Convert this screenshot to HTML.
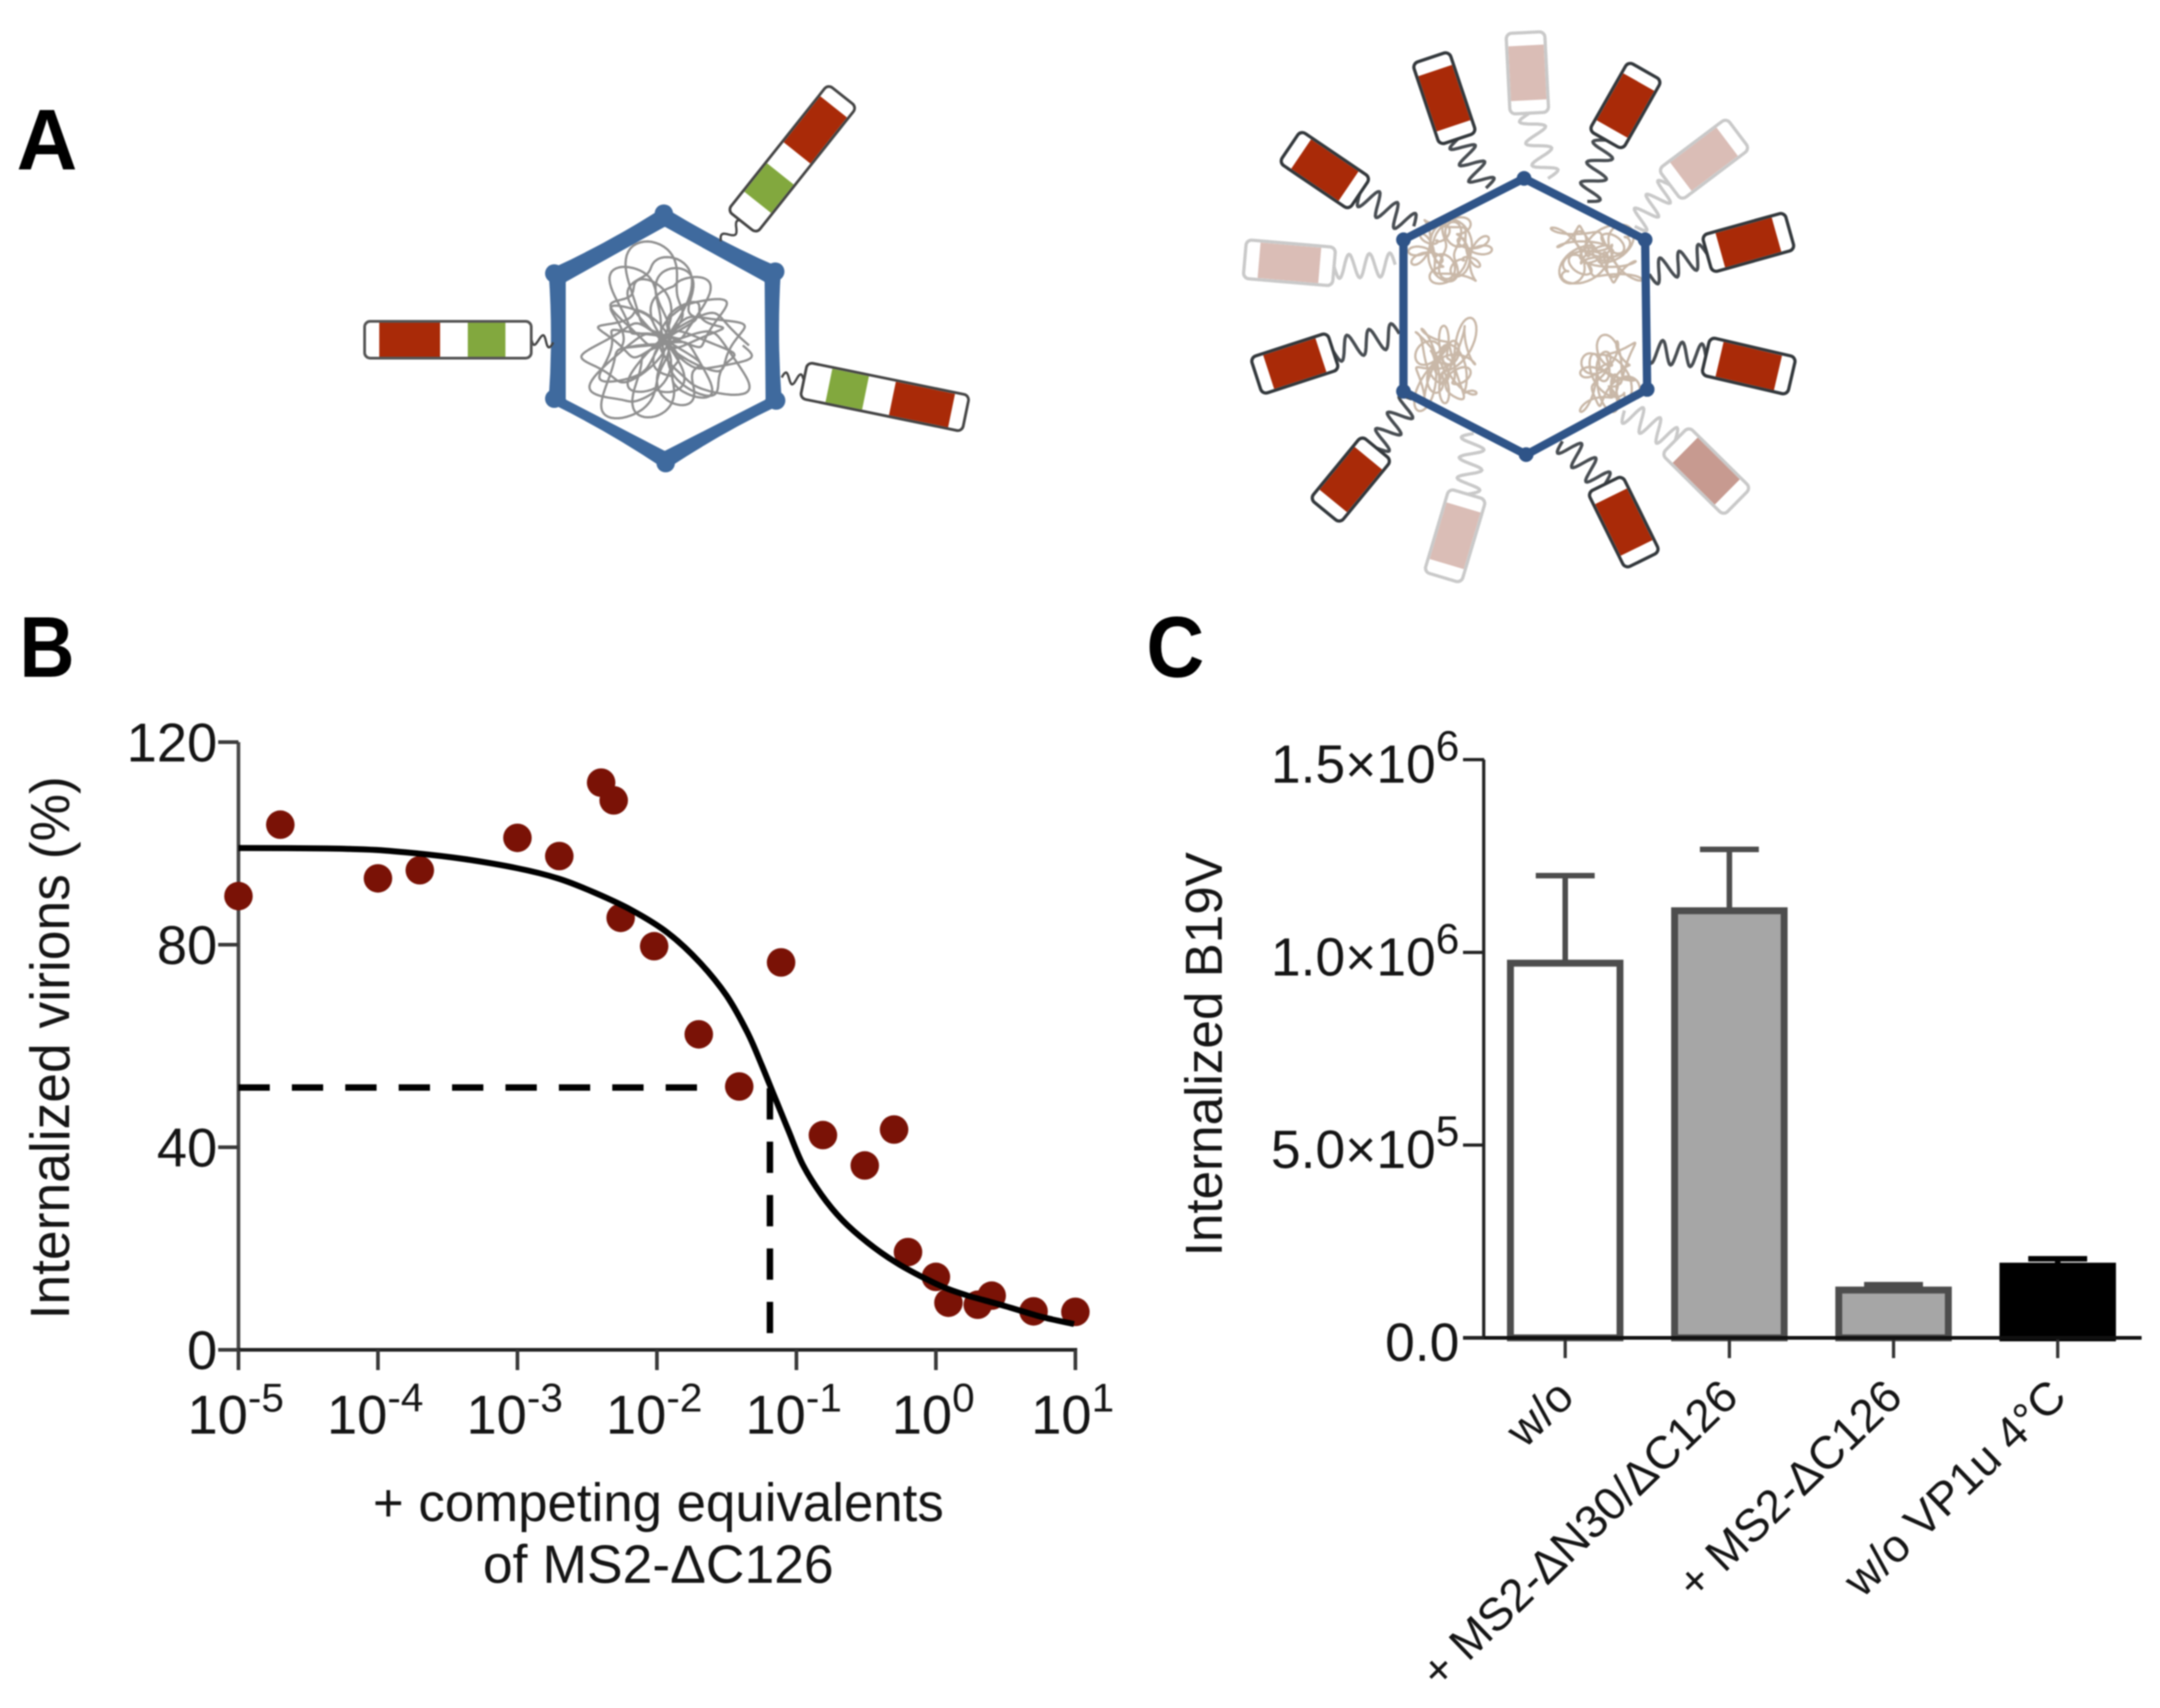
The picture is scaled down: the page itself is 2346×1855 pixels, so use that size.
<!DOCTYPE html>
<html lang="en">
<head>
<meta charset="utf-8">
<title>MS2 competition figure</title>
<style>
html,body{margin:0;padding:0;background:#fff;}
svg{display:block;filter:blur(0.9px);}
text{font-family:"Liberation Sans",sans-serif;fill:#151515;}
</style>
</head>
<body>
<svg id="fig" xmlns="http://www.w3.org/2000/svg" width="2346" height="1855" viewBox="0 0 2346 1855">
  <rect x="0" y="0" width="2346" height="1855" fill="#ffffff"/>
  <text x="18" y="184" font-size="94" font-weight="700" textLength="66" lengthAdjust="spacingAndGlyphs" style="fill:#000">A</text>
  <text x="21" y="735" font-size="94" font-weight="700" textLength="60" lengthAdjust="spacingAndGlyphs" style="fill:#000">B</text>
  <text x="1245" y="735" font-size="94" font-weight="700" textLength="63" lengthAdjust="spacingAndGlyphs" style="fill:#000">C</text>

  <g id="panelA"></g>
  <g id="panelB">
    <text x="75" y="1138" font-size="60" text-anchor="middle" textLength="590" lengthAdjust="spacingAndGlyphs" transform="rotate(-90 75 1138)">Internalized virions (%)</text>
    <text x="715" y="1652" font-size="58" text-anchor="middle" textLength="620" lengthAdjust="spacingAndGlyphs">+ competing equivalents</text>
    <text x="715" y="1719" font-size="58" text-anchor="middle" textLength="381" lengthAdjust="spacingAndGlyphs">of MS2-ΔC126</text>
  </g>
  <g id="panelC">
    <text x="1327" y="1145" font-size="57" text-anchor="middle" textLength="439" lengthAdjust="spacingAndGlyphs" transform="rotate(-90 1327 1145)">Internalized B19V</text>
  </g>
</svg>
<script>
// ---------- Panel B data ----------
var xTickExponents = [-5, -4, -3, -2, -1, 0, 1];
var yTicksB = [0, 40, 80, 120];
var pointLogX = [-5, -4.70, -4, -3.70, -3, -2.70, -2.40, -2.31, -2.26, -2.02, -1.70, -1.41, -1.11, -0.81, -0.51, -0.30, -0.20, 0, 0.09, 0.30, 0.40, 0.70, 1];
var pointY = [89.6, 103.7, 93.1, 94.7, 101.1, 97.5, 112, 108.5, 85.3, 79.7, 62.3, 52, 76.5, 42.4, 36.4, 43.5, 19.3, 14.4, 9.3, 8.9, 10.7, 7.6, 7.5];
var curveLogX = [-5, -4.37, -4.01, -3.71, -3.38, -3, -2.71, -2.44, -2.18, -1.92, -1.69, -1.5, -1.35, -1.25, -1.16, -1.06, -0.955, -0.82, -0.67, -0.49, -0.29, -0.12, 0.06, 0.23, 0.49, 0.76, 0.99];
var curveY = [99.1, 99, 98.7, 98, 96.9, 95.1, 93.1, 90.2, 86.8, 82.3, 76.4, 69.9, 62.6, 56.3, 50.2, 43.5, 36.6, 30.6, 25.6, 21.2, 17.3, 14.7, 12.3, 10.7, 8.7, 6.5, 5.1];
var guideLogX = [-1.19];
var guideY = [51.8];
var guideBottomY = [3.3];

// ---------- Panel C data ----------
var barLabels = ["w/o", "+ MS2-ΔN30/ΔC126", "+ MS2-ΔC126", "w/o VP1u 4°C"];
var barValues = [972000, 1108000, 124000, 186000];
var barErrorTops = [1199000, 1267000, 138000, 205000];
var barFills = ["#ffffff", "#a6a6a6", "#a6a6a6", "#000000"];
var barStrokes = ["#4d4d4d", "#4d4d4d", "#4d4d4d", "#000000"];
var yTicksC = [0, 500000, 1000000, 1500000];
var yTickMantissaC = ["0.0", "5.0×10", "1.0×10", "1.5×10"];
var yTickPowerC = ["", "5", "6", "6"];

var NS = "http://www.w3.org/2000/svg";
function mk(parent, tag, attrs) {
  var el = document.createElementNS(NS, tag);
  for (var k in attrs) { el.setAttribute(k, attrs[k]); }
  parent.appendChild(el);
  return el;
}

// ---------- Panel B axes ----------
var B = document.getElementById("panelB");
function bx(logx) { return 259 + (logx + 5) * 151.5; }
function by(v) { return 1466 - v * 5.5; }
var el;

el = mk(B, "line", {x1: bx(-5), x2: bx(-5), y1: by(120), y2: by(0) + 22, stroke: "#4a4a4a", "stroke-width": 4});


el = mk(B, "line", {x1: bx(-5) - 22, x2: bx(1) + 2, y1: by(0), y2: by(0), stroke: "#222", "stroke-width": 4});



yTicksB.forEach(function (v) {
  var t = mk(B, "line", {x1: bx(-5) - 22, x2: bx(-5), y1: by(v), y2: by(v), stroke: "#3a3a3a", "stroke-width": 4});
  
  
  var l = mk(B, "text", {x: 236, y: by(v) + 21, "font-size": 59, "text-anchor": "end"});
  
  
  l.textContent = String(v);
});

xTickExponents.forEach(function (e) {
  var t = mk(B, "line", {x1: bx(e), x2: bx(e), y1: by(0), y2: by(0) + 22, stroke: "#3a3a3a", "stroke-width": 4});
  
  
  var l = mk(B, "text", {x: bx(e) - 3, y: 1557, "font-size": 59, "text-anchor": "middle"});
  
  
  var base = mk(l, "tspan", {});
  base.textContent = "10";
  var sup = mk(l, "tspan", {dy: -24, "font-size": 44});
  sup.textContent = String(e);
});

// dashed guides
el = mk(B, "line", {x1: bx(-5), x2: bx(guideLogX[0]) - 77, y1: by(guideY[0]), y2: by(guideY[0]), stroke: "#000", "stroke-width": 7, "stroke-dasharray": "34 24"});


el = mk(B, "line", {x1: bx(guideLogX[0]), x2: bx(guideLogX[0]), y1: by(guideBottomY[0]), y2: by(guideY[0]), stroke: "#000", "stroke-width": 7, "stroke-dasharray": "34 24"});



// fit curve: smooth Catmull-Rom through the read points
function smooth(xs, ys) {
  var d = "M" + xs[0].toFixed(1) + " " + ys[0].toFixed(1);
  for (var i = 0; i < xs.length - 1; i++) {
    var i0 = Math.max(i - 1, 0), i3 = Math.min(i + 2, xs.length - 1);
    d += " C" + (xs[i] + (xs[i + 1] - xs[i0]) / 6).toFixed(1) + " " + (ys[i] + (ys[i + 1] - ys[i0]) / 6).toFixed(1) +
         " " + (xs[i + 1] - (xs[i3] - xs[i]) / 6).toFixed(1) + " " + (ys[i + 1] - (ys[i3] - ys[i]) / 6).toFixed(1) +
         " " + xs[i + 1].toFixed(1) + " " + ys[i + 1].toFixed(1);
  }
  return d;
}

pointLogX.forEach(function (lx, i) {
  var c = mk(B, "circle", {cx: bx(lx), cy: by(pointY[i]), r: 15.5, fill: "#7a1206"});
  
  
});
el = mk(B, "path", {d: smooth(curveLogX.map(bx), curveY.map(by)), fill: "none", stroke: "#000", "stroke-width": 6.5});



// ---------- Panel C ----------
var C = document.getElementById("panelC");
function cx(i) { return 1700 + i * 178.3; }
function cy(v) { return 1453 - v * (628 / 1500000); }

barValues.forEach(function (v, i) {
  var err = mk(C, "line", {x1: cx(i), x2: cx(i), y1: cy(v), y2: cy(barErrorTops[i]), stroke: barStrokes[i], "stroke-width": 6});
  
  
  var cap = mk(C, "line", {x1: cx(i) - 32, x2: cx(i) + 32, y1: cy(barErrorTops[i]), y2: cy(barErrorTops[i]), stroke: barStrokes[i], "stroke-width": 6});
  
  
  var r = mk(C, "rect", {x: cx(i) - 59.5, y: cy(v), width: 119, height: cy(0) - cy(v), fill: barFills[i], stroke: barStrokes[i], "stroke-width": 7.5});
  
  
  var t = mk(C, "line", {x1: cx(i), x2: cx(i), y1: cy(0), y2: cy(0) + 22, stroke: "#333", "stroke-width": 3.5});
  
  
  var l = mk(C, "text", {x: cx(i) + 12, y: 1520, "font-size": 50, "text-anchor": "end", transform: "rotate(-44 " + (cx(i) + 12) + " 1520)"});
  
  
  l.textContent = barLabels[i];
});

el = mk(C, "line", {x1: 1611.5, x2: 1611.5, y1: cy(1500000), y2: cy(0), stroke: "#222", "stroke-width": 3.5});


el = mk(C, "line", {x1: 1589, x2: 2326, y1: cy(0), y2: cy(0), stroke: "#111", "stroke-width": 4});



yTicksC.forEach(function (v, i) {
  var t = mk(C, "line", {x1: 1589, x2: 1612, y1: cy(v), y2: cy(v), stroke: "#222", "stroke-width": 3.5});
  
  
  var l = mk(C, "text", {x: 1585, y: cy(v) + 25, "font-size": 58, "text-anchor": "end"});
  
  
  var base = mk(l, "tspan", {});
  base.textContent = yTickMantissaC[i];
  if (yTickPowerC[i]) {
    var sup = mk(l, "tspan", {dy: -24, "font-size": 46});
    sup.textContent = yTickPowerC[i];
  }
});

// ---------- Panel A diagrams (illustration, not chart data) ----------
var A = document.getElementById("panelA");
function rod(parent, x1, y1, x2, y2, w, segs, stroke, sw, name) {
  var L = Math.hypot(x2 - x1, y2 - y1);
  var ang = Math.atan2(y2 - y1, x2 - x1) * 180 / Math.PI;
  var g = mk(parent, "g", {transform: "translate(" + x1.toFixed(1) + " " + y1.toFixed(1) + ") rotate(" + ang.toFixed(1) + ")"});
  
  
  var bg = mk(g, "rect", {x: 0, y: -w / 2, width: L, height: w, rx: 6, fill: "#fff", stroke: stroke, "stroke-width": sw});
  
  
  segs.forEach(function (s) {
    var r = mk(g, "rect", {x: s[0] * L, y: -w / 2 + sw / 2, width: (s[1] - s[0]) * L, height: w - sw, fill: s[2]});
    
    
  });
}
function spring(parent, x1, y1, x2, y2, periods, amp, stroke, width) {
  var dx = x2 - x1, dy = y2 - y1, L = Math.hypot(dx, dy), nx = -dy / L, ny = dx / L, d = "";
  var n = Math.round(periods * 16);
  for (var i = 0; i <= n; i++) {
    var f = i / n, a = Math.sin(f * periods * 2 * Math.PI) * amp;
    d += (i ? "L" : "M") + (x1 + dx * f + nx * a).toFixed(1) + " " + (y1 + dy * f + ny * a).toFixed(1) + " ";
  }
  var p = mk(parent, "path", {d: d, fill: "none", stroke: stroke, "stroke-width": width, "stroke-linejoin": "round"});
  
  
}
// curly closed strand: slow drift plus a fast looping term
function tangle(parent, cxx, cyy, rx, ry, f, loops, ph, stroke, width) {
  var d = "", n = loops * 24;
  for (var i = 0; i <= n; i++) {
    var t = i / n * 2 * Math.PI;
    var rr = 0.15 + 0.06 * Math.sin(f[4] * t + ph);
    var x = cxx + rx * (0.46 * Math.sin(f[0] * t + ph) + 0.3 * Math.sin(f[1] * t + 1.3 * ph) + rr * Math.cos(loops * t));
    var y = cyy + ry * (0.46 * Math.cos(f[2] * t + 0.4 * ph) + 0.3 * Math.sin(f[3] * t + 2.1) + rr * Math.sin(loops * t));
    d += (i ? "L" : "M") + x.toFixed(1) + " " + y.toFixed(1) + " ";
  }
  var p = mk(parent, "path", {d: d, fill: "none", stroke: stroke, "stroke-width": width, "stroke-linejoin": "round"});
  
  
}
// rosette strand: petals around the rim, dense crossing at the centre
function rosette(parent, cxx, cyy, rx, ry, stroke, width) {
  var d = "", n = 1500;
  for (var i = 0; i <= n; i++) {
    var th = i / n * 14 * Math.PI;
    var r = (0.74 + 0.16 * Math.sin(1.43 * th + 0.6) + 0.1 * Math.sin(3.3 * th)) * Math.cos(11 / 7 * th);
    var wob = 0.06 * Math.sin(9 * th);
    var x = cxx + rx * (r * Math.cos(th) + wob);
    var y = cyy + ry * (r * Math.sin(th) + 0.06 * Math.cos(7 * th));
    d += (i ? "L" : "M") + x.toFixed(1) + " " + y.toFixed(1) + " ";
  }
  var p = mk(parent, "path", {d: d, fill: "none", stroke: stroke, "stroke-width": width, "stroke-linejoin": "round"});
  
  
}
function ringPath(pts, centre, k) {
  var d = "M" + pts[0][0] + " " + pts[0][1];
  for (var i = 0; i < pts.length; i++) {
    var a = pts[i], b = pts[(i + 1) % pts.length];
    var mx = (a[0] + b[0]) / 2, my = (a[1] + b[1]) / 2;
    d += " Q" + (mx + (centre[0] - mx) * k).toFixed(1) + " " + (my + (centre[1] - my) * k).toFixed(1) + " " + b[0] + " " + b[1];
  }
  return d + " Z";
}

// left virion
var left = mk(A, "g", {});


var BLUE = "#3f6a9e", RED = "#a92a08", GREEN = "#82a83e";
var hexOuter = [[721, 232], [842, 295], [843, 435], [723, 503], [602, 433], [602, 297]];
var hexInner = [[722, 248], [829, 307], [830, 433], [722, 488], [616, 433], [616, 307]];
el = mk(left, "path", {d: ringPath(hexOuter, [722, 367], 0.04), fill: BLUE, stroke: BLUE, "stroke-width": 12, "stroke-linejoin": "round"});


hexOuter.forEach(function (p) {
  var c = mk(left, "circle", {cx: p[0], cy: p[1], r: 10, fill: BLUE});
  
  
});
el = mk(left, "polygon", {points: hexInner.map(function (p) { return p.join(","); }).join(" "), fill: "#fff", stroke: "#fff", "stroke-width": 3, "stroke-linejoin": "round"});


rosette(left, 722, 369, 102, 104, "#8f8f8f", 2.5);
var segL = [[0.155, 0.381, GREEN], [0.547, 0.912, RED]];
spring(left, 577, 368, 601, 372, 1.5, 6, "#444", 2.5);
spring(left, 808, 240, 783, 262, 1.5, 5, "#444", 2.5);
spring(left, 873, 413, 849, 410, 1.5, 6, "#444", 2.5);
rod(left, 577, 369, 396, 369, 40, segL, "#555", 3, "fusion-protein-left");
rod(left, 806, 241, 915, 104, 40, segL, "#444", 3, "fusion-protein-top");
rod(left, 873, 413, 1049, 449, 40, segL, "#444", 3, "fusion-protein-right");

// right virion
var right = mk(A, "g", {});


function zx(v) { return 1300 + v / 2.229; }
function zy(v) { return v / 2.4; }
var TAN = "#c9b8a8";
tangle(right, 1575, 272, 50, 44, [3, 7, 5, 11, 4], 23, 0.4, TAN, 2.5);
tangle(right, 1734, 276, 54, 40, [5, 11, 3, 13, 6], 25, 1.1, TAN, 2.5);
tangle(right, 1569, 396, 42, 56, [3, 11, 7, 13, 5], 23, 2.0, TAN, 2.5);
tangle(right, 1748, 408, 38, 48, [5, 9, 3, 11, 7], 21, 2.7, TAN, 2.5);
var rodsRight = [
  [632, 362, 566, 150, 700, 490, 1],
  [805, 295, 795, 85, 850, 465, 0],
  [990, 365, 1085, 185, 945, 525, 1],
  [1145, 482, 1310, 348, 1060, 590, 0],
  [1235, 662, 1435, 602, 1095, 715, 1],
  [1232, 928, 1440, 980, 1090, 915, 1],
  [1158, 1148, 1308, 1308, 1035, 1070, 2],
  [988, 1262, 1079, 1460, 885, 1150, 1],
  [655, 1288, 595, 1505, 670, 1130, 0],
  [435, 1168, 310, 1332, 520, 1040, 1],
  [330, 915, 144, 980, 490, 870, 1],
  [332, 695, 116, 675, 480, 690, 0],
  [394, 505, 225, 382, 525, 590, 1]
];
rodsRight.forEach(function (r) {
  var dark = r[6] === 1;
  var fill = dark ? RED : (r[6] === 2 ? "#c79a90" : "#dabdb6");
  var edge = dark ? "#33383c" : "#c9c9c9";
  spring(right, zx(r[0]), zy(r[1]), zx(r[4]), zy(r[5]), 3, 13, dark ? "#484d52" : "#c9c9c9", 3.5);
  rod(right, zx(r[0]), zy(r[1]), zx(r[2]), zy(r[3]), 42, [[0.16, 0.84, fill]], edge, 3.5, dark ? "fusion-protein-dark" : "fusion-protein-faded");
});
var hexR = [[792, 465], [1085, 625], [1090, 1015], [797, 1185], [500, 1020], [500, 625]].map(function (p) { return [zx(p[0]), zy(p[1])]; });
el = mk(right, "polygon", {points: hexR.map(function (p) { return p[0].toFixed(1) + "," + p[1].toFixed(1); }).join(" "), fill: "none", stroke: "#2f5488", "stroke-width": 9, "stroke-linejoin": "round"});


hexR.forEach(function (p) {
  var c = mk(right, "circle", {cx: p[0], cy: p[1], r: 8, fill: "#2f5488"});
  
  
});
</script>
</body>
</html>
